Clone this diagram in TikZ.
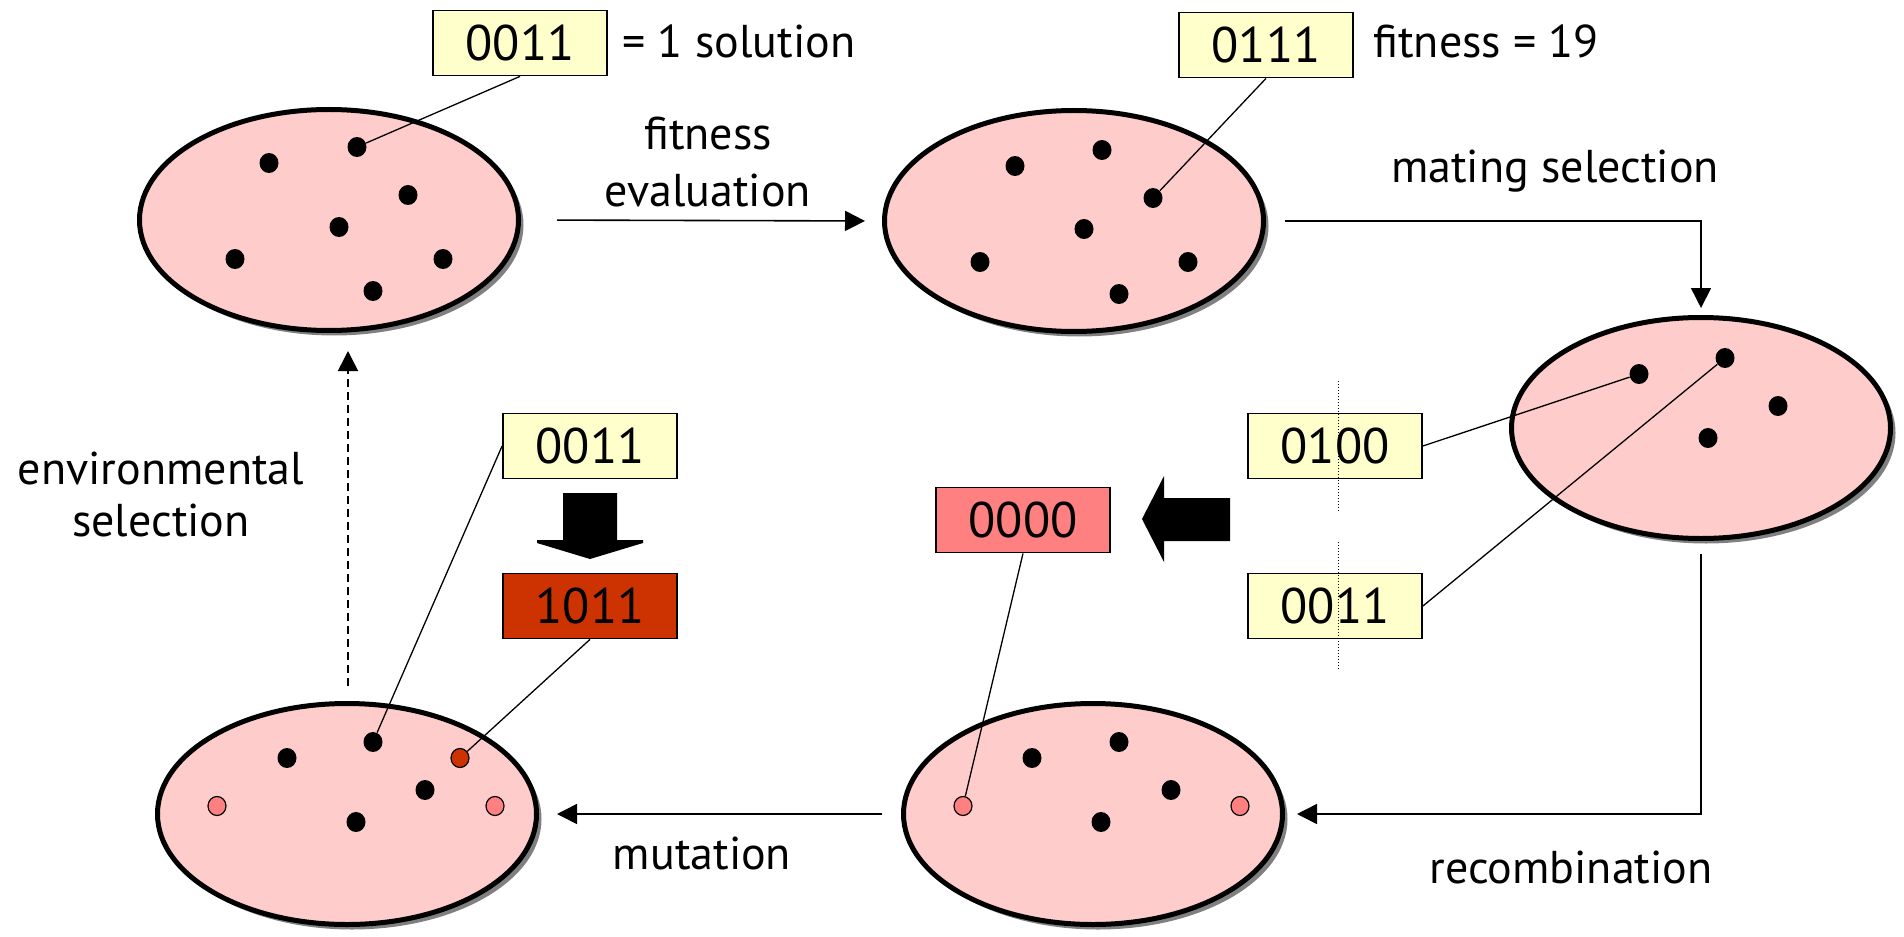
\documentclass[tikz,border=0pt]{standalone}
\usepackage{fontspec}
\setmainfont{PT Sans}
\usetikzlibrary{shapes.geometric,shadows,arrows.meta,calc}
\definecolor{popfill}{HTML}{FFCCCC}
\definecolor{boxfill}{HTML}{FFFFCC}
\definecolor{newfill}{HTML}{FF8080}
\definecolor{mutfill}{HTML}{CC3300}
\begin{document}
\begin{tikzpicture}[x=0.5pt,y=-0.5pt,
  pop/.style={ellipse, draw, line width=2.5pt, fill=popfill,
    minimum width=189.5pt, minimum height=110.5pt, inner sep=0pt,
    drop shadow={shadow xshift=2.5pt, shadow yshift=-2.5pt, fill=black!50, opacity=1}},
  ind/.style={ellipse, fill=black, minimum width=9.5pt, minimum height=10pt, inner sep=0pt},
  child/.style={ellipse, draw, line width=0.6pt, fill=newfill,
    minimum width=9pt, minimum height=9.5pt, inner sep=0pt},
  mutant/.style={child, fill=mutfill},
  genome/.style={draw, line width=0.9pt, fill=boxfill, minimum width=87pt,
    minimum height=32.5pt, inner sep=0pt, font=\fontsize{25}{30}\selectfont},
  lbl/.style={font=\fontsize{23}{28}\selectfont, inner sep=0pt},
  link/.style={line width=0.65pt},
  flow/.style={line width=0.8pt, -{Triangle[length=10pt,width=10pt]}},
  cutline/.style={line width=0.5pt, densely dotted},
  blockarrow/.style={fill=black}]

\useasboundingbox (0,0) rectangle (1904,936);

% populations
\node[pop] (A) at (329,220) {};
\node[pop] (B) at (1074,221) {};
\node[pop] (C) at (1701,428) {};
\node[pop] (D) at (1093,814) {};
\node[pop] (E) at (347,814) {};

% individuals of the initial population
\node[ind] (a1) at (269,163) {};
\node[ind] (a2) at (357,147) {};
\node[ind] (a3) at (408,195) {};
\node[ind] (a4) at (339,227) {};
\node[ind] (a5) at (235,259) {};
\node[ind] (a6) at (443,259) {};
\node[ind] (a7) at (373,291) {};

% evaluated population
\node[ind] (b1) at (1015,166) {};
\node[ind] (b2) at (1102,150) {};
\node[ind] (b3) at (1153,198) {};
\node[ind] (b4) at (1084,229) {};
\node[ind] (b5) at (980,262) {};
\node[ind] (b6) at (1188,262) {};
\node[ind] (b7) at (1119,294) {};

% mating pool
\node[ind] (c1) at (1639,374) {};
\node[ind] (c2) at (1725,358) {};
\node[ind] (c3) at (1778,406) {};
\node[ind] (c4) at (1708,438) {};

% offspring after recombination
\node[ind] (d1) at (1032,758) {};
\node[ind] (d2) at (1119,742) {};
\node[ind] (d3) at (1171,790) {};
\node[ind] (d4) at (1101,822) {};
\node[child] (d5) at (963,806) {};
\node[child] (d6) at (1240,806) {};

% offspring after mutation
\node[ind] (e1) at (287,758) {};
\node[ind] (e2) at (373,742) {};
\node[ind] (e3) at (425,790) {};
\node[ind] (e4) at (356,822) {};
\node[mutant] (e5) at (460,758) {};
\node[child] (e6) at (217,806) {};
\node[child] (e7) at (495,806) {};

% genomes
\node[genome] (t1) at (520,43) {0011};
\node[genome] (t2) at (1266,45) {0111};
\node[genome] (r1) at (1335,446) {0100};
\node[genome] (r2) at (1335,606) {0011};
\node[genome, fill=newfill] (m) at (1023,520) {0000};
\node[genome] (l1) at (590,446) {0011};
\node[genome, fill=mutfill] (l2) at (590,606) {1011};

% genome links
\draw[link] (t1.south) -- (a2);
\draw[link] (t2.south) -- (b3);
\draw[link] (r1.east) -- (c1);
\draw[link] (r2.east) -- (c2);
\draw[link] (m.south) -- (d5);
\draw[link] (l1.west) -- (e2);
\draw[link] (l2.south) -- (e5);

% crossover points
\draw[cutline] (1338,381) -- (1338,511);
\draw[cutline] (1338,542) -- (1338,670);

% block arrows
\fill[blockarrow] (1230,498) -- (1164,498) -- (1164,476) -- (1142,519)
  -- (1164,562) -- (1164,541) -- (1230,541) -- cycle;
\fill[blockarrow] (563,493) -- (617,493) -- (617,540) -- (643,540) -- (643,543)
  -- (590,559) -- (537,543) -- (537,540) -- (563,540) -- cycle;

% cycle of operators
\draw[flow, shorten <=18pt, shorten >=8.5pt] (A.east) -- (B.west);
\draw[flow, shorten <=9.5pt, shorten >=3.5pt] (B.east) -| (C.north);
\draw[flow, shorten <=6.5pt, shorten >=6pt] (C.south) |- (D.east);
\draw[flow, shorten <=9.5pt, shorten >=9pt] (D.west) -- (E.east);
\coordinate (envtop) at (348,331);
\coordinate (envbot) at (348,703);
\draw[flow, dashed, dash pattern=on 4pt off 2.5pt, shorten <=8.5pt, shorten >=10pt]
  (envbot) -- (envtop);

% labels
\node[lbl, anchor=base west] (s1) at (622,58) {= 1 solution};
\node[lbl, anchor=base west] (s2) at (1373,58) {fitness = 19};
\node[lbl, anchor=north, align=center] (fe) at (708,117) {fitness\\[0.5pt]evaluation};
\node[lbl, anchor=base] (ms) at (1555,183) {mating selection};
\node[lbl, anchor=base] (rc) at (1571,883) {recombination};
\node[lbl, anchor=base] (mu) at (702,869) {mutation};
\node[lbl, anchor=north, align=center] (es) at (161,452) {environmental\\[-2pt]selection};
\end{tikzpicture}
\end{document}
